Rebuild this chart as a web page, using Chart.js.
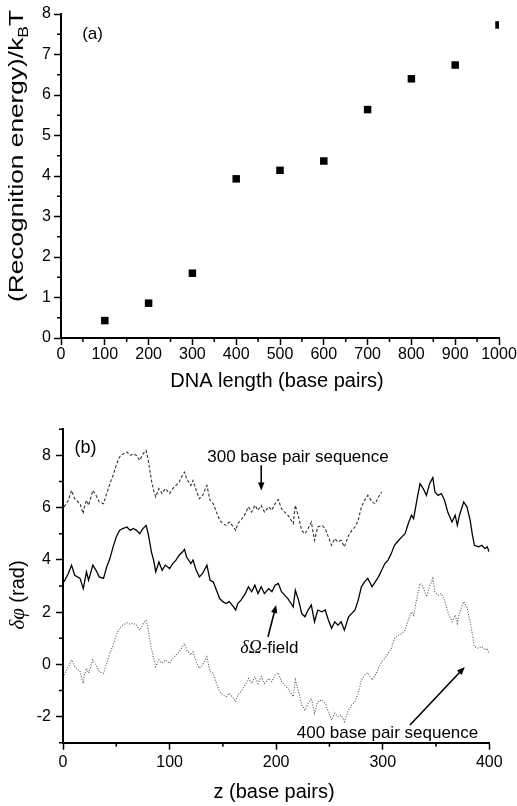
<!DOCTYPE html>
<html>
<head>
<meta charset="utf-8">
<script src="https://cdn.jsdelivr.net/npm/chart.js@4.4.1/dist/chart.umd.min.js"></script>
<style>
  html, body { margin: 0; padding: 0; background: #fff; }
  .panel { position: absolute; left: 0; width: 517px; }
  #wrapA { top: 0; height: 400px; }
  #wrapB { top: 400px; height: 406px; }
</style>
</head>
<body>
<div class="panel" id="wrapA"><canvas id="chartA" width="517" height="400"></canvas></div>
<div class="panel" id="wrapB"><canvas id="chartB" width="517" height="406"></canvas></div>
<script>
// panel (a): recognition energy vs DNA length
const dnaLength = [100, 200, 300, 400, 500, 600, 700, 800, 900, 1000];
const recognitionEnergy = [0.43, 0.86, 1.60, 3.93, 4.14, 4.37, 5.64, 6.40, 6.74, 7.73];
const xTicksA = [0, 100, 200, 300, 400, 500, 600, 700, 800, 900, 1000];
const yTicksA = [0, 1, 2, 3, 4, 5, 6, 7, 8];

// panel (b): phase along the molecule
const zBp = [1, 5, 8, 11, 16, 19, 20, 22, 24, 28, 31, 34, 38, 41, 44, 47, 50, 53, 56, 60,
  63, 66, 69, 72, 75, 78, 80, 83, 85, 87, 90, 93, 96, 100, 103, 106, 109, 112, 114, 116,
  120, 122, 125, 128, 131, 135, 138, 141, 144, 147, 150, 153, 156, 160, 162, 164, 167, 171, 174, 177,
  180, 183, 186, 189, 193, 196, 199, 202, 205, 208, 211, 214, 216, 218, 221, 224, 227, 230, 233, 236,
  239, 243, 246, 249, 252, 255, 258, 261, 264, 268, 271, 274, 277, 280, 283, 286, 290, 293, 296, 299,
  302, 305, 308, 311, 315, 318, 321, 324, 327, 329, 332, 335, 338, 341, 344, 347, 349, 352, 355, 358,
  361, 365, 368, 370, 372, 376, 379, 382, 384, 386, 390, 393, 396, 398, 400];
const fieldPhase = [3.16, 3.48, 3.80, 3.41, 3.29, 2.90, 3.10, 3.54, 3.22, 3.80, 3.60, 3.35, 3.29, 3.73, 4.05, 4.50, 4.88, 5.13, 5.20, 5.26,
  5.13, 5.20, 5.13, 5.00, 5.20, 5.32, 5.00, 4.30, 3.99, 3.54, 3.92, 3.60, 3.80, 3.67, 3.86, 3.99, 4.18, 4.30, 4.40, 4.11,
  3.86, 3.99, 3.60, 3.35, 3.48, 3.80, 3.22, 3.16, 2.84, 2.52, 2.40, 2.33, 2.40, 2.20, 2.08, 2.33, 2.46, 2.71, 2.97, 2.78,
  3.03, 2.71, 2.97, 2.71, 2.90, 2.78, 3.03, 3.10, 2.78, 2.65, 2.52, 2.33, 2.20, 2.84, 2.46, 1.95, 1.82, 2.08, 2.27, 1.63,
  2.08, 2.01, 2.08, 1.70, 1.38, 1.63, 1.50, 1.63, 1.31, 1.82, 1.95, 2.08, 2.46, 2.97, 3.16, 3.29, 2.97, 3.16, 3.35, 3.60,
  3.86, 3.99, 4.24, 4.56, 4.75, 4.88, 5.00, 5.39, 5.71, 5.58, 6.28, 6.92, 6.73, 6.47, 6.92, 7.15, 6.60, 6.47, 6.54, 6.28,
  5.83, 5.45, 5.71, 5.32, 5.71, 6.22, 6.03, 5.52, 5.00, 4.56, 4.50, 4.56, 4.43, 4.50, 4.30];
const seq300Phase = [6.03, 6.28, 6.66, 6.34, 6.15, 5.77, 6.03, 6.28, 6.09, 6.66, 6.47, 6.22, 6.15, 6.54, 6.92, 7.24, 7.62, 7.94, 8.04, 8.13,
  8.00, 8.06, 8.00, 7.81, 8.06, 8.19, 7.81, 7.04, 6.66, 6.41, 6.73, 6.54, 6.73, 6.54, 6.73, 6.85, 6.98, 7.24, 7.36, 7.11,
  6.85, 7.04, 6.66, 6.34, 6.47, 6.85, 6.28, 6.15, 5.83, 5.52, 5.39, 5.32, 5.45, 5.26, 5.13, 5.39, 5.52, 5.77, 6.03, 5.83,
  6.09, 5.90, 6.09, 5.83, 6.03, 5.90, 6.15, 6.31, 5.96, 5.83, 5.71, 5.52, 5.39, 6.09, 5.64, 5.13, 5.00, 5.20, 5.45, 4.75,
  5.26, 5.32, 5.20, 4.88, 4.56, 4.81, 4.69, 4.75, 4.50, 4.94, 5.13, 5.26, 5.52, 6.03, 6.28, 6.47, 6.22, 6.15, 6.41, 6.60];
const seq400Phase = [-0.41, -0.09, 0.17, -0.09, -0.28, -0.73, -0.41, -0.15, -0.34, 0.17, -0.03, -0.28, -0.34, 0.04, 0.42, 0.74, 1.12, 1.38, 1.50, 1.59,
  1.54, 1.57, 1.50, 1.31, 1.54, 1.69, 1.31, 0.61, 0.23, -0.09, 0.17, 0.04, 0.17, 0.04, 0.23, 0.36, 0.48, 0.68, 0.80, 0.55,
  0.36, 0.48, 0.10, -0.15, -0.03, 0.29, -0.28, -0.34, -0.73, -1.04, -1.17, -1.24, -1.11, -1.30, -1.43, -1.17, -1.04, -0.79, -0.54, -0.73,
  -0.47, -0.73, -0.47, -0.73, -0.54, -0.66, -0.41, -0.32, -0.66, -0.79, -0.92, -1.11, -1.24, -0.60, -1.04, -1.55, -1.75, -1.49, -1.30, -1.87,
  -1.43, -1.36, -1.49, -1.81, -2.13, -1.87, -2.00, -1.94, -2.19, -1.75, -1.55, -1.43, -1.11, -0.60, -0.41, -0.32, -0.60, -0.41, -0.15, 0.10,
  0.23, 0.42, 0.61, 0.99, 1.12, 1.18, 1.31, 1.69, 2.01, 1.88, 2.52, 3.10, 2.97, 2.59, 2.97, 3.29, 2.78, 2.65, 2.71, 2.46,
  2.01, 1.63, 1.88, 1.57, 1.95, 2.40, 2.20, 1.63, 1.18, 0.68, 0.61, 0.68, 0.55, 0.61, 0.42];
const xTicksB = [0, 100, 200, 300, 400];
const yTicksB = [-2, 0, 2, 4, 6, 8];

const SANS = "'Liberation Sans', Arial, sans-serif";
const SERIF = "'Liberation Serif', 'Times New Roman', serif";

function axis(min, max, ticks, fit, horizontal, pad) {
  return {
    type: 'linear', min, max,
    afterBuildTicks: s => { s.ticks = ticks.map(v => ({ value: v })); },
    afterFit: s => {
      if (horizontal) s.height = fit; else s.width = fit;
      s.paddingLeft = s.paddingRight = s.paddingTop = s.paddingBottom = 0;
    },
    grid: { display: true, drawOnChartArea: false, drawTicks: true, tickLength: 7, tickWidth: 1.5, tickColor: '#000', color: '#000' },
    border: { display: true, color: '#000', width: 2 },
    ticks: { color: '#000', font: { family: SANS, size: 16 }, padding: pad, autoSkip: false, maxRotation: 0, callback: v => String(v) },
  };
}

function minors(ticks, min, max) {
  const half = (ticks[1] - ticks[0]) / 2;
  const out = [];
  for (let v = ticks[0] - half; v <= max + 1e-9; v += 2 * half) if (v >= min - 1e-9) out.push(v);
  return out;
}

function drawParts(ctx, parts, cx, by, rotate, stretchTo) {
  ctx.save();
  ctx.translate(cx, by);
  if (rotate) ctx.rotate(-Math.PI / 2);
  const widths = parts.map(p => { ctx.font = p.font; return ctx.measureText(p.t).width; });
  const total = widths.reduce((a, b) => a + b, 0);
  if (stretchTo) ctx.scale(stretchTo / total, 1);
  ctx.fillStyle = '#000';
  ctx.textBaseline = 'alphabetic';
  ctx.textAlign = 'left';
  let x = -total / 2;
  parts.forEach((p, i) => { ctx.font = p.font; ctx.fillText(p.t, x, p.dy || 0); x += widths[i]; });
  ctx.restore();
}

function arrow(ctx, x0, y0, x1, y1) {
  const a = Math.atan2(y1 - y0, x1 - x0), h = 8, w = 3.2;
  ctx.beginPath();
  ctx.moveTo(x0, y0);
  ctx.lineTo(x1 - (h - 1) * Math.cos(a), y1 - (h - 1) * Math.sin(a));
  ctx.stroke();
  ctx.beginPath();
  ctx.moveTo(x1, y1);
  ctx.lineTo(x1 - h * Math.cos(a) + w * Math.sin(a), y1 - h * Math.sin(a) - w * Math.cos(a));
  ctx.lineTo(x1 - h * Math.cos(a) - w * Math.sin(a), y1 - h * Math.sin(a) + w * Math.cos(a));
  ctx.closePath();
  ctx.fill();
}

// decorations kept out of Chart.js option resolution
function makeDecor(cfg) {
  return {
    id: 'decor',
    afterDraw(chart) {
      const { ctx, scales: { x, y }, chartArea: a } = chart;
      ctx.save();
      ctx.strokeStyle = '#000';
      ctx.fillStyle = '#000';
      ctx.lineWidth = 1.5;
      ctx.beginPath();
      cfg.minorX.forEach(v => { const px = x.getPixelForValue(v); ctx.moveTo(px, a.bottom); ctx.lineTo(px, a.bottom + 4); });
      cfg.minorY.forEach(v => { const py = y.getPixelForValue(v); ctx.moveTo(a.left, py); ctx.lineTo(a.left - 4, py); });
      ctx.stroke();
      cfg.titles.forEach(t => drawParts(ctx, t.parts, t.cx, t.by, t.rotate, t.stretchTo));
      cfg.labels.forEach(l => drawParts(ctx, l.parts, x.getPixelForValue(l.x), y.getPixelForValue(l.y)));
      ctx.lineWidth = 1.6;
      cfg.arrows.forEach(r => arrow(ctx, x.getPixelForValue(r[0]), y.getPixelForValue(r[1]), x.getPixelForValue(r[2]), y.getPixelForValue(r[3])));
      ctx.restore();
    }
  };
}

const common = {
  responsive: false,
  animation: false,
  events: [],
  plugins: { legend: { display: false }, tooltip: { enabled: false } },
};

// ---- panel (a)
new Chart(document.getElementById('chartA'), {
  type: 'scatter',
  data: {
    datasets: [{
      data: dnaLength.map((v, i) => ({ x: v, y: recognitionEnergy[i] })),
      pointStyle: 'rect', pointRadius: 5.3, backgroundColor: '#000', borderColor: '#000', borderWidth: 0,
    }],
  },
  options: {
    ...common,
    layout: { padding: { left: 0, top: 14, right: 18, bottom: 0 } },
    scales: {
      x: axis(0, 1000, xTicksA, 400 - 338, true, 0),
      y: axis(0, 8, yTicksA, 61, false, 3),
    },
  },
  plugins: [makeDecor({
    minorX: minors(xTicksA, 0, 1000),
    minorY: minors(yTicksA, 0, 8),
    titles: [
      { cx: 277, by: 386.5, parts: [{ t: 'DNA length (base pairs)', font: `20px ${SANS}` }] },
      { cx: 23, by: 156, rotate: true, stretchTo: 292, parts: [
        { t: '(Recognition energy)/k', font: `21px ${SANS}` },
        { t: 'B', font: `14px ${SANS}`, dy: 5 },
        { t: 'T', font: `21px ${SANS}` },
      ] },
    ],
    labels: [{ x: 72, y: 7.39, parts: [{ t: '(a)', font: `17px ${SANS}` }] }],
    arrows: [],
  })],
});

// ---- panel (b)
const pts = vals => vals.map((v, i) => ({ x: zBp[i], y: v }));
new Chart(document.getElementById('chartB'), {
  type: 'line',
  data: {
    datasets: [
      { label: '300 base pair sequence', data: pts(seq300Phase), borderColor: '#333', borderWidth: 1.1, borderDash: [3, 2], pointRadius: 0 },
      { label: 'δΩ-field', data: pts(fieldPhase), borderColor: '#000', borderWidth: 1.3, pointRadius: 0 },
      { label: '400 base pair sequence', data: pts(seq400Phase), borderColor: '#555', borderWidth: 1.1, borderDash: [1, 1.6], pointRadius: 0 },
    ],
  },
  options: {
    ...common,
    layout: { padding: { left: 0, top: 29.3, right: 27.7, bottom: 0 } },
    scales: {
      x: axis(0, 400, xTicksB, 406 - 342.7, true, 3),
      y: axis(-3, 9, yTicksB, 63, false, 5),
    },
  },
  plugins: [makeDecor({
    minorX: minors(xTicksB, 0, 400),
    minorY: minors(yTicksB, -3, 9),
    titles: [
      { cx: 274, by: 398, parts: [{ t: 'z (base pairs)', font: `20px ${SANS}` }] },
      { cx: 24, by: 195, rotate: true, parts: [
        { t: 'δφ', font: `italic 21px ${SERIF}` },
        { t: ' (rad)', font: `20px ${SANS}` },
      ] },
    ],
    labels: [
      { x: 21, y: 8.11, parts: [{ t: '(b)', font: `18px ${SANS}` }] },
      { x: 220.5, y: 7.74, parts: [{ t: '300 base pair sequence', font: `17px ${SANS}` }] },
      { x: 193.7, y: 0.43, parts: [{ t: 'δΩ', font: `italic 18px ${SERIF}` }, { t: '-field', font: `17px ${SANS}` }] },
      { x: 304.5, y: -2.81, parts: [{ t: '400 base pair sequence', font: `17px ${SANS}` }] },
    ],
    arrows: [
      [186, 7.62, 186, 6.66],
      [192.3, 1.05, 200, 2.27],
      [325.6, -2.32, 377, -0.1],
    ],
  })],
});
</script>
</body>
</html>
